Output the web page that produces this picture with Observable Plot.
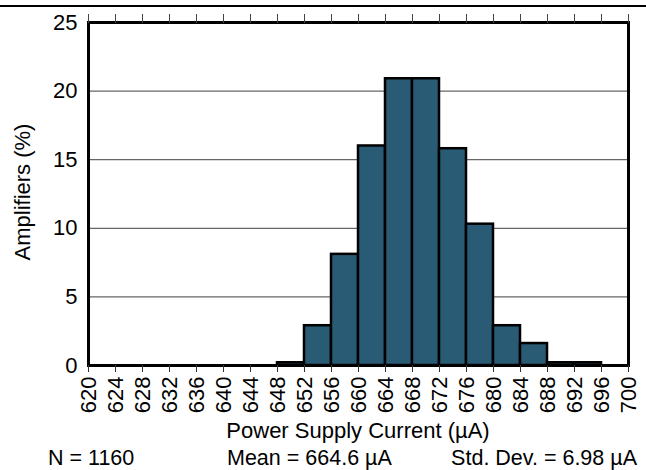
<!DOCTYPE html>
<html>
<head>
<meta charset="utf-8">
<script src="https://cdn.jsdelivr.net/npm/d3@7"></script>
<script src="https://cdn.jsdelivr.net/npm/@observablehq/plot@0.6"></script>
<style>
  html, body { margin: 0; padding: 0; background: #fff; }
  #wrap { position: relative; width: 646px; height: 470px; font-family: "Liberation Sans", Arial, Helvetica, sans-serif; color: #000; }
  #chart svg text { font-size: 22px !important; font-family: "Liberation Sans", Arial, Helvetica, sans-serif !important; fill: #000; }
  #topline { position: absolute; left: 0; top: 5px; width: 646px; height: 2px; background: #000; }
  .stat { position: absolute; top: 448px; font-size: 21.5px; line-height: 21px; white-space: nowrap; }
  #xlab { position: absolute; left: 158px; width: 400px; top: 420px; text-align: center; font-size: 22px; line-height: 22px; white-space: nowrap; }
  #ylab { position: absolute; left: -177px; width: 400px; top: 181px; text-align: center; font-size: 22px; line-height: 22px; white-space: nowrap; transform: rotate(-90deg); transform-origin: 200px 11px; }
</style>
</head>
<body>
<div id="wrap">
  <div id="chart"></div>
  <div id="topline"></div>
  <div id="xlab"></div>
  <div id="ylab"></div>
  <span class="stat" id="s1"></span>
  <span class="stat" id="s2"></span>
  <span class="stat" id="s3"></span>
</div>
<script>
// Histogram bins (lower / upper edges, µA) and share of amplifiers (%)
const binLower = [648, 652, 656, 660, 664, 668, 672, 676, 680, 684, 688, 692];
const binUpper = [652, 656, 660, 664, 668, 672, 676, 680, 684, 688, 692, 696];
const percent  = [0.2, 2.9, 8.1, 16.0, 20.9, 20.9, 15.8, 10.3, 2.9, 1.6, 0.2, 0.2];

const xTicks = [620, 624, 628, 632, 636, 640, 644, 648, 652, 656, 660, 664, 668, 672, 676, 680, 684, 688, 692, 696, 700];
const yTicks = [0, 5, 10, 15, 20, 25];
const gridTicks = [5, 10, 15, 20];

const xLabel = "Power Supply Current (\u00B5A)";
const yLabel = "Amplifiers (%)";
const statsText = ["N = 1160", "Mean = 664.6 \u00B5A", "Std. Dev. = 6.98 \u00B5A"];

const bins = binLower.map((lo, i) => ({lo, hi: binUpper[i], pct: percent[i]}));

const chart = Plot.plot({
  width: 646,
  height: 470,
  marginTop: 22,
  marginLeft: 88,
  marginRight: 18,
  marginBottom: 105,
  style: {fontFamily: "'Liberation Sans', Arial, Helvetica, sans-serif", fontSize: "22px", color: "#000", background: "#fff"},
  x: {domain: [620, 700]},
  y: {domain: [0, 25]},
  marks: [
    Plot.gridY(gridTicks, {stroke: "#666", strokeOpacity: 1, strokeWidth: 1.2}),
    Plot.rectY(bins, {x1: "lo", x2: "hi", y: "pct", fill: "#2a5b74", stroke: "#000", strokeWidth: 2.5, inset: 0}),
    Plot.frame({stroke: "#000", strokeWidth: 3}),
    Plot.axisX({ticks: xTicks, tickSize: 7, tickPadding: 4, tickRotate: -90, stroke: "#333", label: null}),
    Plot.axisX({anchor: "top", ticks: xTicks, tickSize: 9, tickFormat: () => "", stroke: "#444", label: null}),
    Plot.axisY({ticks: yTicks, tickSize: 0, tickPadding: 11, label: null})
  ]
});
document.getElementById("chart").appendChild(chart);

document.getElementById("xlab").textContent = xLabel;
document.getElementById("ylab").textContent = yLabel;
document.getElementById("s1").textContent = statsText[0];
document.getElementById("s1").style.left = "48px";
document.getElementById("s2").textContent = statsText[1];
document.getElementById("s2").style.left = "227px";
document.getElementById("s3").textContent = statsText[2];
document.getElementById("s3").style.right = "9px";
</script>
</body>
</html>
